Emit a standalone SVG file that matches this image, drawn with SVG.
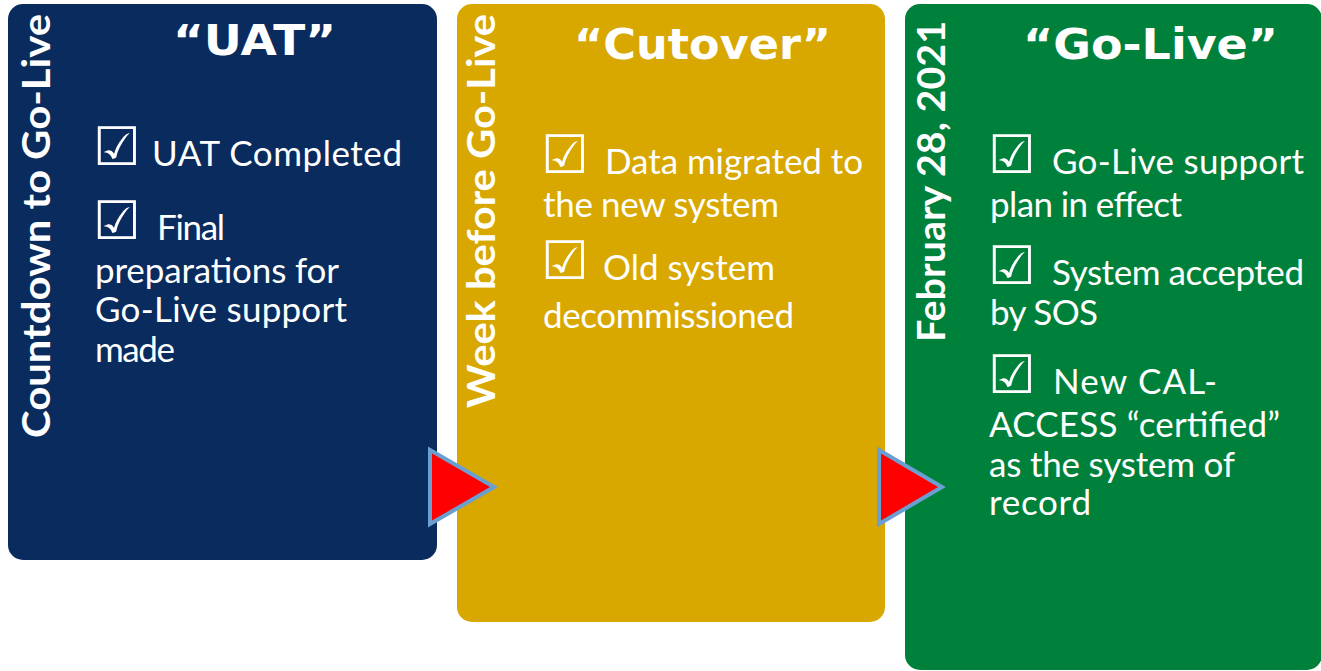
<svg xmlns="http://www.w3.org/2000/svg" width="1321" height="671" viewBox="0 0 1321 671">
<style>
.title{font-family:"DejaVu Sans",Lato,"Liberation Sans",sans-serif;font-weight:bold;font-size:42px;fill:#fff}
.side{font-family:Lato,"Open Sans","Liberation Sans",sans-serif;font-weight:bold;font-size:39px;fill:#fff}
.body{font-family:Lato,"Open Sans","Liberation Sans",sans-serif;font-size:35px;fill:#fff}
.chk{font-family:"DejaVu Sans",sans-serif;font-size:53px;fill:#fff}
.arrow{fill:#ff0000;stroke:#6a9fd2;stroke-width:4;stroke-linejoin:miter}
</style>
<rect width="1321" height="671" fill="#fff"/>
<g id="uat">
<rect x="8" y="4" width="429" height="556" rx="15" fill="#092b5e"/>
<text class="side" transform="translate(50,438) rotate(-90)" textLength="424" lengthAdjust="spacingAndGlyphs">Countdown to Go-Live</text>
<text class="title" x="173" y="55" textLength="163" lengthAdjust="spacingAndGlyphs">“UAT”</text>
<text class="chk" x="93" y="165">☑</text>
<text class="body" x="152" y="166" textLength="250" lengthAdjust="spacing">UAT Completed</text>
<text class="chk" x="93" y="239">☑</text>
<text class="body" x="157" y="240" textLength="68" lengthAdjust="spacing">Final</text>
<text class="body" x="95" y="283" textLength="244" lengthAdjust="spacing">preparations for</text>
<text class="body" x="95" y="322" textLength="252" lengthAdjust="spacing">Go-Live support</text>
<text class="body" x="95" y="362" textLength="80" lengthAdjust="spacing">made</text>
</g>
<g id="cutover">
<rect x="457" y="4" width="428" height="618" rx="15" fill="#d8a700"/>
<text class="side" transform="translate(495,408) rotate(-90)" textLength="394" lengthAdjust="spacingAndGlyphs">Week before Go-Live</text>
<text class="title" x="574" y="59" textLength="257" lengthAdjust="spacingAndGlyphs">“Cutover”</text>
<text class="chk" x="541" y="173">☑</text>
<text class="body" x="605" y="174" textLength="258" lengthAdjust="spacing">Data migrated to</text>
<text class="body" x="543" y="217" textLength="236" lengthAdjust="spacing">the new system</text>
<text class="chk" x="541" y="279">☑</text>
<text class="body" x="603" y="280" textLength="172" lengthAdjust="spacing">Old system</text>
<text class="body" x="543" y="328" textLength="251" lengthAdjust="spacing">decommissioned</text>
</g>
<g id="golive">
<rect x="905" y="4" width="417" height="666" rx="15" fill="#00813b"/>
<text class="side" transform="translate(945,342) rotate(-90)" textLength="321" lengthAdjust="spacingAndGlyphs">February 28, 2021</text>
<text class="title" x="1023" y="59" textLength="255" lengthAdjust="spacingAndGlyphs">“Go-Live”</text>
<text class="chk" x="988" y="173">☑</text>
<text class="body" x="1052" y="174" textLength="252" lengthAdjust="spacing">Go-Live support</text>
<text class="body" x="990" y="217" textLength="192" lengthAdjust="spacing">plan in effect</text>
<text class="chk" x="988" y="284">☑</text>
<text class="body" x="1052" y="285" textLength="252" lengthAdjust="spacing">System accepted</text>
<text class="body" x="990" y="325" textLength="108" lengthAdjust="spacing">by SOS</text>
<text class="chk" x="988" y="393">☑</text>
<text class="body" x="1053" y="394" textLength="164" lengthAdjust="spacing">New CAL-</text>
<text class="body" x="989" y="437" textLength="291" lengthAdjust="spacing">ACCESS “certified”</text>
<text class="body" x="989" y="477" textLength="246" lengthAdjust="spacing">as the system of</text>
<text class="body" x="989" y="515" textLength="102" lengthAdjust="spacing">record</text>
</g>
<g id="connectors">
<polygon class="arrow" points="430,450 430,524 494,487"/>
<polygon class="arrow" points="879,450 879,524 942,487"/>
</g>
</svg>
